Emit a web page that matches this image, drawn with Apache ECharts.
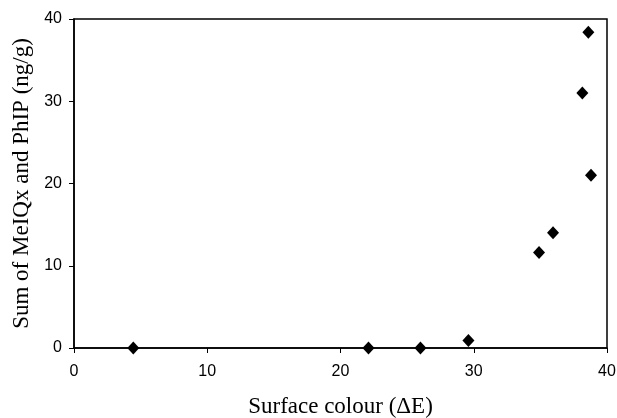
<!DOCTYPE html>
<html lang="en">
<head>
  <meta charset="UTF-8">
  <title>Surface colour vs MeIQx + PhIP</title>
  <script src="https://cdn.jsdelivr.net/npm/echarts@6/dist/echarts.min.js"></script>
</head>
<body style="margin:0;background:#fff;">
  <div id="chart" style="width:617px;height:418px;"></div>
  <script>
    // surface colour (delta E) and sum of MeIQx + PhIP (ng/g)
    var colourDE = [4.45, 22.1, 26.0, 29.6, 34.9, 35.95, 38.15, 38.6, 38.8];
    var sumHAA   = [0,    0,    0,    0.9,  11.6, 14.0,  31.0,  38.4, 21.0];
    var xTicks = [0, 10, 20, 30, 40];
    var yTicks = [0, 10, 20, 30, 40];

    var points = [];
    for (var i = 0; i < colourDE.length; i++) {
      points.push([colourDE[i], sumHAA[i]]);
    }

    var chart = echarts.init(document.getElementById('chart'));
    var axisText = { color: '#000', fontFamily: 'Liberation Sans, Arial', fontSize: 16 };
    var titleText = { color: '#000', fontFamily: 'Liberation Serif, Times New Roman', fontSize: 23 };

    chart.setOption({
      animation: false,
      grid: {
        left: 74, top: 19, right: 10, bottom: 70,
        outerBoundsMode: 'none', containLabel: false,
        show: true, borderColor: '#000', borderWidth: 1.5
      },
      xAxis: {
        type: 'value',
        min: xTicks[0], max: xTicks[xTicks.length - 1], interval: 10,
        name: 'Surface colour (\u0394E)',
        nameLocation: 'middle', nameGap: 47,
        nameTextStyle: titleText,
        axisLine: { onZero: false, lineStyle: { color: '#000', width: 1.5 } },
        axisTick: { show: true, length: 5, lineStyle: { color: '#000' } },
        axisLabel: Object.assign({ margin: 16 }, axisText),
        splitLine: { show: false }
      },
      yAxis: {
        type: 'value',
        min: yTicks[0], max: yTicks[yTicks.length - 1], interval: 10,
        name: 'Sum of MeIQx and PhIP (ng/g)',
        nameLocation: 'middle', nameGap: 40,
        nameTextStyle: titleText,
        axisLine: { show: true, lineStyle: { color: '#000', width: 1.5 } },
        axisTick: { show: true, length: 5, lineStyle: { color: '#000' } },
        axisLabel: Object.assign({ margin: 12 }, axisText),
        splitLine: { show: false }
      },
      series: [{
        type: 'scatter',
        data: points,
        symbol: 'diamond',
        symbolSize: [12, 13],
        itemStyle: { color: '#000', opacity: 1 }
      }]
    });
  </script>
</body>
</html>
